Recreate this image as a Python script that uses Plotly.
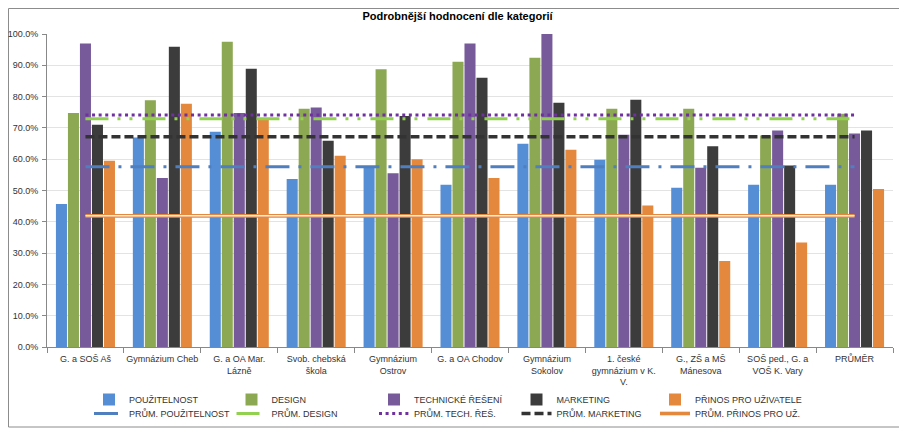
import plotly.graph_objects as go

categories = ["G. a SOŠ Aš", "Gymnázium Cheb", "G. a OA Mar. Lázně", "Svob. chebská škola",
              "Gymnázium Ostrov", "G. a OA Chodov", "Gymnázium Sokolov",
              "1. české gymnázium v K. V.", "G., ZŠ a MŠ Mánesova",
              "SOŠ ped., G. a VOŠ K. Vary", "PRŮMĚR"]
tick_labels = ["G. a SOŠ Aš", "Gymnázium Cheb", "G. a OA Mar.<br>Lázně", "Svob. chebská<br>škola",
               "Gymnázium<br>Ostrov", "G. a OA Chodov", "Gymnázium<br>Sokolov",
               "1. české<br>gymnázium v K.<br>V.", "G., ZŠ a MŠ<br>Mánesova",
               "SOŠ ped., G. a<br>VOŠ K. Vary", "PRŮMĚR"]

pouzitelnost = [0.457, 0.669, 0.688, 0.537, 0.575, 0.518, 0.649, 0.598, 0.509, 0.518, 0.518]
design       = [0.748, 0.788, 0.975, 0.761, 0.887, 0.911, 0.924, 0.761, 0.761, 0.676, 0.745]
technicke    = [0.970, 0.540, 0.748, 0.765, 0.555, 0.970, 1.000, 0.678, 0.573, 0.692, 0.682]
marketing    = [0.710, 0.959, 0.889, 0.659, 0.738, 0.860, 0.780, 0.790, 0.641, 0.580, 0.692]
prinos       = [0.595, 0.777, 0.730, 0.611, 0.600, 0.540, 0.630, 0.452, 0.275, 0.334, 0.505]

avg_pouzitelnost = 0.576
avg_design = 0.729
avg_technicke = 0.741
avg_marketing = 0.672
avg_prinos = 0.419

y_ticks = [0, 0.1, 0.2, 0.3, 0.4, 0.5, 0.6, 0.7, 0.8, 0.9, 1.0]

# the page body has an 8px margin, so the figure is 8px smaller and all positions shift by 8px
W, H = 899, 424
PL, PR, PT, PB = 39, 885, 26, 339   # plot area in figure pixels
PW, PH = PR - PL, PB - PT

fig = go.Figure()

bars = [
    ("POUŽITELNOST", pouzitelnost, "#558ED5", "legend"),
    ("DESIGN", design, "#8DA853", "legend"),
    ("TECHNICKÉ ŘEŠENÍ", technicke, "#775A9A", "legend"),
    ("MARKETING", marketing, "#3C3C3C", "legend"),
    ("PŘINOS PRO UŽIVATELE", prinos, "#E3883D", "legend3"),
]
for name, vals, col, leg in bars:
    fig.add_trace(go.Bar(x=categories, y=vals, name=name, legend=leg,
                         marker=dict(color=col, line=dict(width=0))))

lines = [
    ("PRŮM. POUŽITELNOST", avg_pouzitelnost, "#4F7FBF", 3, "24px,9px,3px,9px", "legend2"),
    ("PRŮM. DESIGN", avg_design, "#92D050", 3, "23px,9px,3px,9px,3px,10px", "legend2"),
    ("PRŮM. TECH. ŘEŠ.", avg_technicke, "#7030A0", 3, "3px,3.6px", "legend2"),
    ("PRŮM. MARKETING", avg_marketing, "#333333", 3.5, "9px,4px", "legend2"),
    ("PRŮM. PŘINOS PRO UŽ.", avg_prinos, "#E3883D", 3.6, "solid", "legend4"),
]
for name, val, col, w, dash, leg in lines:
    fig.add_trace(go.Scatter(x=categories, y=[val] * len(categories), name=name, mode="lines",
                             legend=leg, line=dict(color=col, width=w, dash=dash)))
# inner light stroke of the double line
fig.add_trace(go.Scatter(x=categories, y=[avg_prinos] * len(categories), mode="lines",
                         line=dict(color="#FBEBDD", width=1.5), showlegend=False, hoverinfo="skip"))

leg_common = dict(orientation="h", xanchor="left", yanchor="top", traceorder="normal",
                  font=dict(size=9, color="#333333"), itemwidth=30, bgcolor="rgba(0,0,0,0)")
col_w = 141.5
x0_leg = 81
x_last = x0_leg + 4 * col_w

fig.update_layout(
    width=W, height=H,
    margin=dict(l=PL, r=W - PR, t=PT, b=H - PB, autoexpand=False),
    paper_bgcolor="white", plot_bgcolor="white",
    font=dict(family="Liberation Sans, Arial, sans-serif", size=9, color="#333333"),
    title=dict(text="<b>Podrobnější hodnocení dle kategorií</b>", x=0.5, xref="container",
               y=1 - 8 / H, yref="container", yanchor="middle",
               font=dict(size=11, color="#000000")),
    barmode="group", bargap=0.22, bargroupgap=0.08,
    showlegend=True,
    legend=dict(x=(x0_leg - PL) / PW, y=-(377 - PB) / PH, entrywidth=97.5, entrywidthmode="pixels", **leg_common),
    legend2=dict(x=(x0_leg - PL) / PW, y=-(391 - PB) / PH, entrywidth=97.5, entrywidthmode="pixels", **leg_common),
    legend3=dict(x=(x_last - PL) / PW, y=-(377 - PB) / PH, **leg_common),
    legend4=dict(x=(x_last - PL) / PW, y=-(391 - PB) / PH, **leg_common),
    xaxis=dict(type="category", tickmode="array", tickvals=categories, ticktext=tick_labels,
               tickson="boundaries", ticks="outside", ticklen=5, tickcolor="#888888",
               showline=True, linecolor="#888888", linewidth=1, showgrid=False,
               tickangle=0, ticklabelstandoff=3, tickfont=dict(size=9, color="#333333")),
    yaxis=dict(range=[0, 1.0], tickmode="array", tickvals=y_ticks, tickformat=".1%",
               ticks="outside", ticklen=4, tickcolor="#888888",
               showline=True, linecolor="#888888", linewidth=1, ticklabelstandoff=2,
               showgrid=True, gridcolor="#E3E3E3", gridwidth=1, zeroline=False,
               tickfont=dict(size=9, color="#333333")),
    shapes=[dict(type="rect", xref="paper", yref="paper",
                 x0=(0.5 - PL) / PW, x1=(895 - PL) / PW,
                 y0=(PB - 419) / PH, y1=(PB - 0.5) / PH,
                 line=dict(color="#8C8C8C", width=1), fillcolor="rgba(0,0,0,0)", layer="below")],
)

fig.write_html("out.html")
